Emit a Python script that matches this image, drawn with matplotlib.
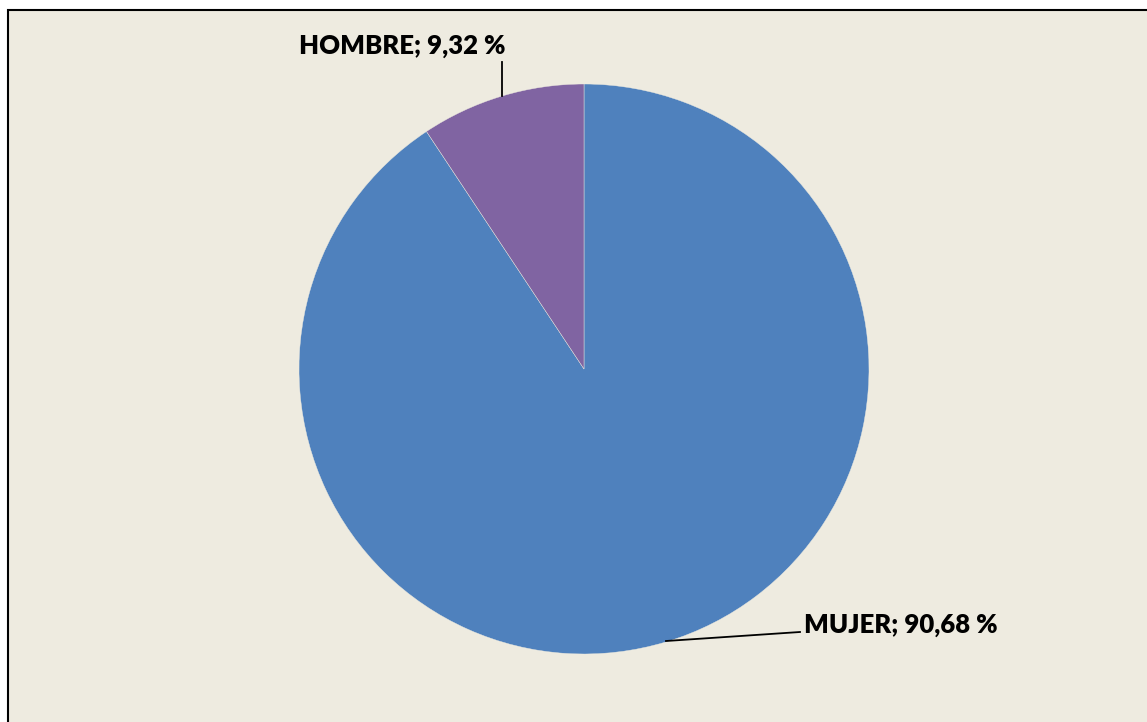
import matplotlib.pyplot as plt
from matplotlib.patches import Rectangle

# data
labels = ['MUJER', 'HOMBRE']
values = [90.68, 9.32]
colors = ['#4F81BD', '#8064A2']

W, H = 1147, 722
fig = plt.figure(figsize=(W / 100, H / 100), dpi=100, facecolor='white')
ax = fig.add_axes([0, 0, 1, 1])

# chart area background with border
ax.add_patch(Rectangle((8, -20), W + 20, H - 10 + 20, facecolor='#EEEBE0',
                       edgecolor='black', linewidth=1.5, zorder=0))

ax.pie(values, colors=colors, startangle=90, counterclock=False,
       center=(584, H - 369), radius=285, frame=True,
       wedgeprops=dict(edgecolor='#EEEBE0', linewidth=0.3))
ax.set_xlim(0, W)
ax.set_ylim(0, H)
ax.set_aspect('auto')
ax.axis('off')

font = dict(family=['Lato', 'DejaVu Sans'], fontsize=18.5, fontweight='heavy', color='black')

# leader lines
ax.plot([502, 502], [H - 96, H - 62], color='black', lw=1.3)
ax.plot([666, 800], [H - 641, H - 632], color='black', lw=1.3)

ax.text(299, H - 46, '%s; %s %%' % (labels[1], f'{values[1]:.2f}'.replace('.', ',')),
        ha='left', va='center', **font)
ax.text(804, H - 625, '%s; %s %%' % (labels[0], f'{values[0]:.2f}'.replace('.', ',')),
        ha='left', va='center', **font)

plt.savefig('out.png', dpi=100, facecolor='white')
